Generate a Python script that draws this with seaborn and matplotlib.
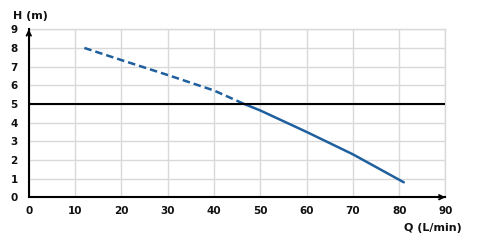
import matplotlib
matplotlib.use("Agg")
import matplotlib.pyplot as plt
import seaborn as sns
import pandas as pd

# Data
q_dashed = [12, 20, 30, 40, 46.5]
h_dashed = [8.0, 7.35, 6.55, 5.72, 5.0]
q_solid = [46.5, 50, 60, 70, 81]
h_solid = [5.0, 4.65, 3.5, 2.3, 0.8]
ref_level = 5
x_ticks = [0, 10, 20, 30, 40, 50, 60, 70, 80, 90]
y_ticks = [0, 1, 2, 3, 4, 5, 6, 7, 8, 9]

sns.set_theme(style="white")
plt.rcParams['font.family'] = ['DejaVu Sans']

fig = plt.figure(figsize=(4.8, 2.42), dpi=100)
ax = fig.add_axes([0.06, 0.185, 0.868, 0.694])

color = "#1f5f9e"
df_d = pd.DataFrame({"Q": q_dashed, "H": h_dashed})
df_s = pd.DataFrame({"Q": q_solid, "H": h_solid})
sns.lineplot(data=df_d, x="Q", y="H", ax=ax, color=color, lw=1.8,
             linestyle=(0, (3, 1.6)), zorder=3)
sns.lineplot(data=df_s, x="Q", y="H", ax=ax, color=color, lw=1.8, zorder=3)
ax.axhline(ref_level, color="black", lw=1.5, zorder=4)

ax.set_xlim(0, 90)
ax.set_ylim(0, 9)
ax.set_xticks(x_ticks)
ax.set_yticks(y_ticks)
ax.grid(True, color="#d9d9d9", lw=1)
ax.set_axisbelow(True)
ax.set_xlabel("")
ax.set_ylabel("")
ax.tick_params(axis="both", length=0, labelsize=7.5, colors="#111111")
ax.tick_params(axis="x", pad=6)
ax.tick_params(axis="y", pad=8)
for lab in ax.get_xticklabels() + ax.get_yticklabels():
    lab.set_fontweight("bold")

for s in ["top", "right"]:
    ax.spines[s].set_color("#d9d9d9")
    ax.spines[s].set_linewidth(1)
for s in ["left", "bottom"]:
    ax.spines[s].set_color("black")
    ax.spines[s].set_linewidth(1.5)
    ax.spines[s].set_zorder(5)

ax.annotate("", xy=(0, 1.0), xycoords="axes fraction", xytext=(0, 0.96),
            arrowprops=dict(arrowstyle="->", lw=1.3, color="black",
                            shrinkA=0, shrinkB=0, mutation_scale=8),
            annotation_clip=False, zorder=6)
ax.annotate("", xy=(1.0, 0), xycoords="axes fraction", xytext=(0.98, 0),
            arrowprops=dict(arrowstyle="->", lw=1.3, color="black",
                            shrinkA=0, shrinkB=0, mutation_scale=8),
            annotation_clip=False, zorder=6)

fig.text(13 / 480, 1 - 16 / 242, "H (m)", fontsize=8, fontweight="bold",
         color="#111111", ha="left", va="center")
fig.text(462 / 480, 1 - 228 / 242, "Q (L/min)", fontsize=8, fontweight="bold",
         color="#111111", ha="right", va="center")

fig.savefig("out.png", dpi=100)
